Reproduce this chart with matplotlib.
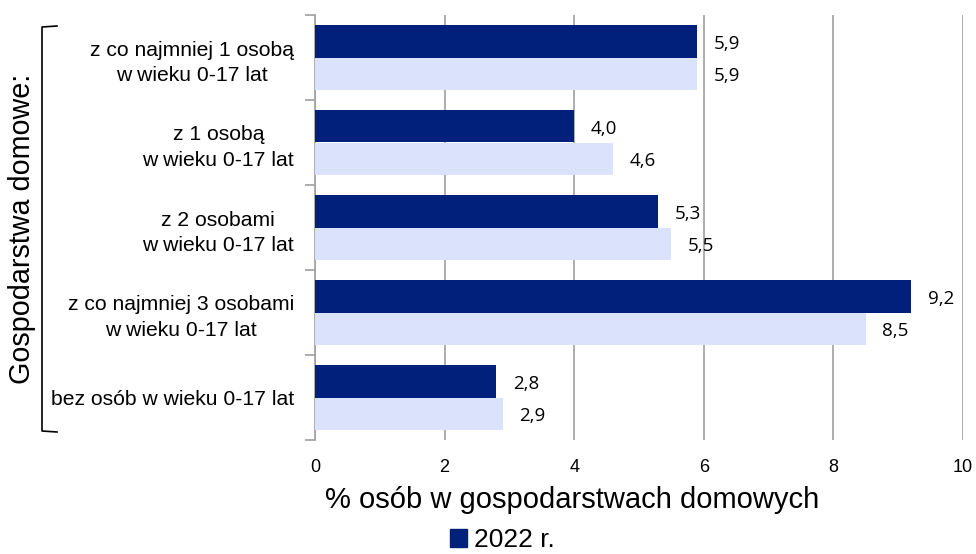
import matplotlib
matplotlib.use('Agg')
import matplotlib.pyplot as plt
from matplotlib.lines import Line2D
from matplotlib.patches import Patch
import numpy as np

plt.rcParams['font.family'] = ['Liberation Sans', 'DejaVu Sans']

categories = ['z co najmniej 1 osobą\nw wieku 0-17 lat',
              'z 1 osobą\nw wieku 0-17 lat',
              'z 2 osobami\nw wieku 0-17 lat',
              'z co najmniej 3 osobami\nw wieku 0-17 lat',
              'bez osób w wieku 0-17 lat']
val_2022 = [5.9, 4.0, 5.3, 9.2, 2.8]
val_prev = [5.9, 4.6, 5.5, 8.5, 2.9]

dark = '#00207c'
light = '#dae2fc'
grey = '#a0a0a0'

W, H = 976, 554
fig = plt.figure(figsize=(W / 100, H / 100), dpi=100)
ax = fig.add_axes([315 / W, 1 - 440 / H, (963 - 315) / W, (440 - 15) / H])

y = np.arange(len(categories))
h = 0.38
ax.barh(y - h / 2, val_2022, height=h, color=dark, zorder=3)
ax.barh(y + h / 2, val_prev, height=h, color=light, zorder=3)

def fmt(v):
    return ('%.1f' % v).replace('.', ',')

for yi, v in zip(y, val_2022):
    ax.annotate(fmt(v), (v, yi - h / 2), xytext=(12, -2), textcoords='offset points',
                va='center', ha='left', fontsize=13.5, family='Open Sans')
for yi, v in zip(y, val_prev):
    ax.annotate(fmt(v), (v, yi + h / 2), xytext=(12, -2), textcoords='offset points',
                va='center', ha='left', fontsize=13.5, family='Open Sans')

ax.set_xlim(0, 10)
ax.set_ylim(len(categories) - 0.5, -0.5)
ax.set_xticks(np.arange(0, 11, 2))
ax.tick_params(axis='x', length=0, labelsize=13, pad=14)
ax.set_yticks(y)
ax.set_yticklabels(categories, fontsize=15.2, ha='right', multialignment='center',
                   linespacing=1.45)
ax.tick_params(axis='y', which='major', length=0, pad=15)
ax.set_yticks(np.arange(-0.5, len(categories)), minor=True)
ax.tick_params(axis='y', which='minor', length=7, color=grey, width=1.2)
ax.grid(axis='x', color=grey, linewidth=1.2, zorder=0)
for s in ['top', 'right', 'bottom']:
    ax.spines[s].set_visible(False)
ax.spines['left'].set_color(grey)
ax.spines['left'].set_linewidth(1.2)

fig.text(572 / W, 1 - 500 / H, '% osób w gospodarstwach domowych', fontsize=21,
         ha='center', va='center')
fig.text(22 / W, 1 - 229 / H, 'Gospodarstwa domowe:', fontsize=20.7, rotation=90,
         ha='center', va='center')

# bracket
bx = [57 / W, 42 / W, 42 / W, 57 / W]
by = [1 - 26 / H, 1 - 27 / H, 1 - 431 / H, 1 - 432 / H]
fig.add_artist(Line2D(bx, by, color='black', linewidth=1.2))

fig.legend(handles=[Patch(color=dark, label='2022 r.')], loc='center',
           bbox_to_anchor=(502 / W, 1 - 540 / H), frameon=False, fontsize=19,
           handlelength=0.65, handleheight=0.65, handletextpad=0.25, borderpad=0)

fig.savefig('out.png', dpi=100)
